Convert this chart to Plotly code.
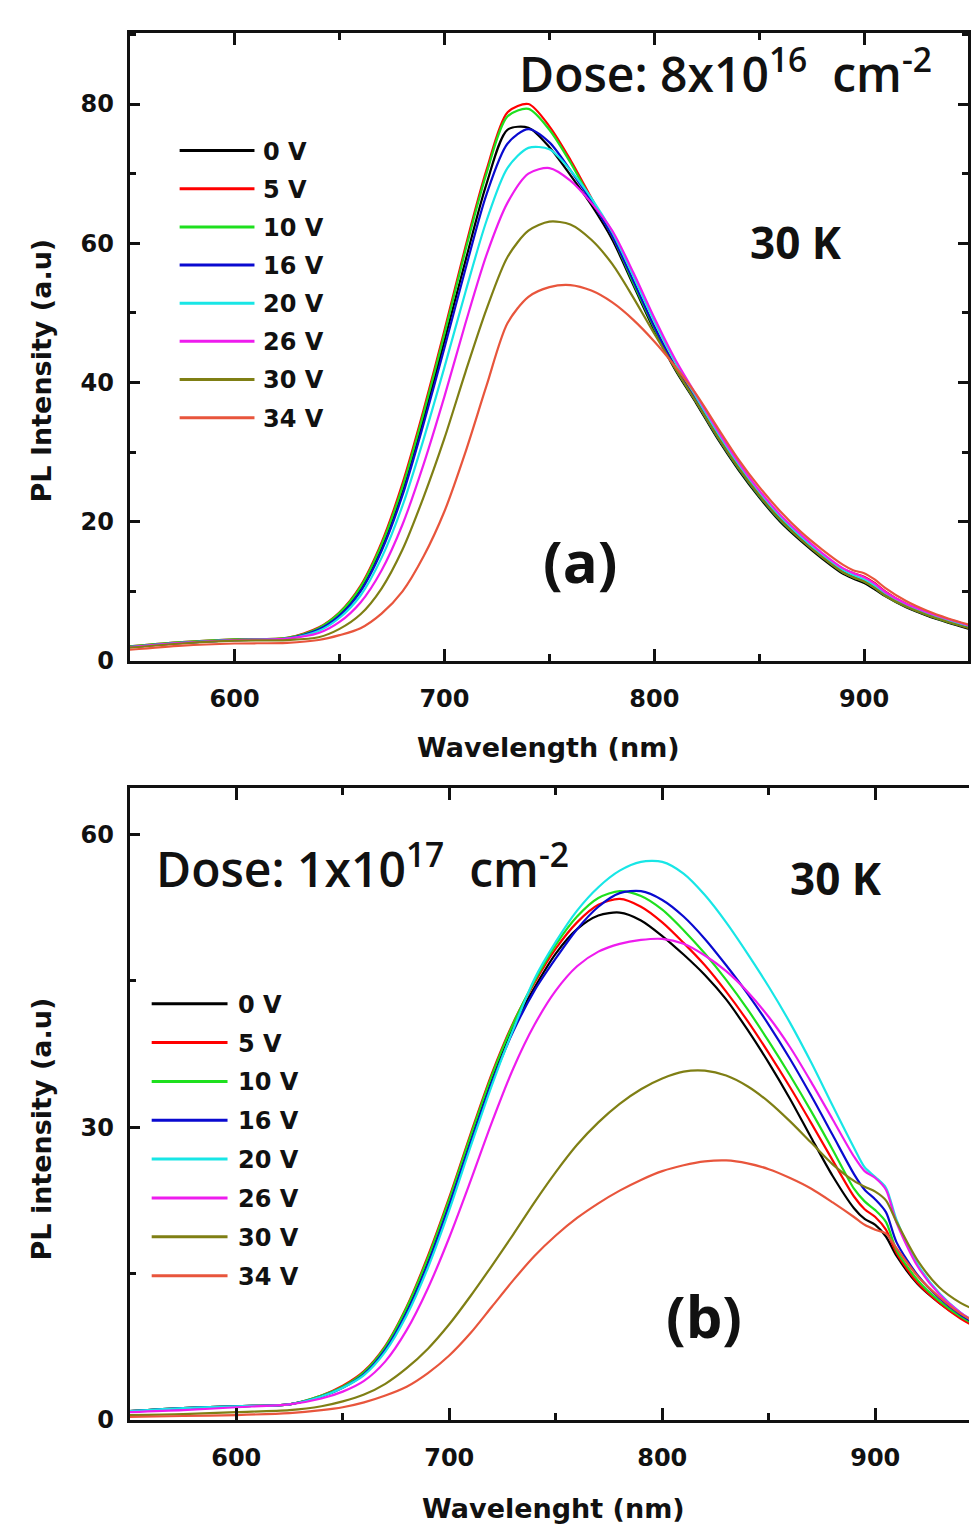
import plotly.graph_objects as go

# Shared wavelength grid (nm)
WAVELENGTH = [550, 575, 600, 625, 640, 650, 660, 670, 680, 690, 700, 710, 720, 730,
              740, 750, 760, 770, 780, 790, 800, 810, 820, 830, 840, 850, 860, 870,
              880, 890, 895, 900, 905, 910, 920, 930, 940, 950]

BIAS_LABELS = ["0 V", "5 V", "10 V", "16 V", "20 V", "26 V", "30 V", "34 V"]
COLORS = ["#000000", "#ff0000", "#1ee01e", "#0a0ad0", "#18e6e6", "#ee1cee", "#7f7f14", "#e8553c"]

# Panel (a): dose 8x10^16 cm^-2, 30 K
PL_A_0V = [2.0, 2.6, 3.0, 3.2, 4.6, 6.7, 10.3, 16.2, 24.3, 34.7, 46.0, 57.5, 68.5, 76.3,
           76.6, 73.8, 69.8, 65.5, 60.5, 54.0, 47.5, 41.8, 37.0, 32.0, 27.5, 23.5, 20.0, 17.2,
           14.7, 12.5, 11.8, 11.2, 10.3, 9.3, 7.7, 6.5, 5.5, 4.6]
PL_A_5V = [2.1, 2.7, 3.1, 3.3, 4.8, 7.0, 10.8, 17.0, 25.5, 36.0, 47.5, 59.5, 70.5, 78.8,
           80.0, 76.8, 72.0, 66.5, 61.0, 54.5, 48.0, 42.3, 37.5, 32.5, 28.0, 24.0, 20.6, 17.8,
           15.3, 13.2, 12.6, 12.1, 11.2, 10.0, 8.2, 6.9, 5.9, 5.0]
PL_A_10V = [2.1, 2.7, 3.1, 3.3, 4.7, 6.9, 10.6, 16.7, 25.0, 35.5, 47.0, 59.0, 70.0, 78.2,
            79.3, 76.3, 71.6, 66.2, 61.0, 54.3, 47.8, 42.0, 37.2, 32.2, 27.7, 23.7, 20.2, 17.4,
            14.9, 12.7, 12.0, 11.4, 10.5, 9.4, 7.8, 6.6, 5.6, 4.8]
PL_A_16V = [2.0, 2.6, 3.0, 3.2, 4.5, 6.5, 10.0, 15.8, 23.8, 34.0, 45.0, 56.3, 67.0, 74.3,
            76.4, 74.5, 70.5, 66.0, 61.0, 54.6, 48.0, 42.2, 37.3, 32.3, 27.8, 23.8, 20.3, 17.5,
            15.0, 12.8, 12.1, 11.5, 10.6, 9.5, 7.9, 6.7, 5.7, 4.9]
PL_A_20V = [2.0, 2.6, 3.0, 3.2, 4.3, 6.2, 9.4, 14.8, 22.3, 31.8, 42.2, 53.0, 63.2, 70.8,
            73.7, 73.5, 70.5, 66.5, 61.6, 55.3, 48.8, 42.9, 37.9, 32.8, 28.2, 24.2, 20.7, 17.8,
            15.2, 13.0, 12.3, 11.7, 10.8, 9.7, 8.0, 6.8, 5.8, 5.0]
PL_A_26V = [2.0, 2.6, 3.0, 3.2, 4.0, 5.6, 8.4, 13.0, 19.6, 28.2, 38.0, 48.5, 58.3, 65.8,
            70.0, 70.8, 69.0, 65.8, 61.8, 55.8, 49.3, 43.3, 38.2, 33.2, 28.6, 24.5, 21.0, 18.1,
            15.5, 13.3, 12.6, 12.0, 11.1, 9.9, 8.2, 7.0, 6.0, 5.1]
PL_A_30V = [1.9, 2.5, 2.9, 3.0, 3.4, 4.6, 6.7, 10.4, 16.0, 23.5, 32.0, 41.5, 50.5, 58.0,
            61.8, 63.1, 62.7, 60.5, 57.0, 52.2, 47.0, 42.0, 37.2, 32.3, 27.8, 23.8, 20.3, 17.4,
            14.9, 12.7, 12.0, 11.4, 10.5, 9.4, 7.8, 6.6, 5.6, 4.7]
PL_A_34V = [1.6, 2.2, 2.5, 2.6, 3.0, 3.7, 4.7, 6.8, 10.0, 15.0, 21.5, 30.0, 39.5, 48.5,
            52.3, 53.7, 54.0, 53.2, 51.5, 49.0, 45.9, 42.3, 38.3, 33.6, 29.0, 25.0, 21.5, 18.5,
            16.0, 13.8, 13.0, 12.6, 11.7, 10.5, 8.6, 7.2, 6.1, 5.2]

# Panel (b): dose 1x10^17 cm^-2, 30 K
PL_B_0V = [0.9, 1.2, 1.4, 1.6, 2.4, 3.4, 4.9, 7.4, 11.3, 16.4, 22.4, 28.9, 35.1, 40.3,
           44.3, 47.8, 50.3, 51.7, 52.0, 51.2, 49.6, 47.7, 45.6, 43.1, 40.0, 36.6, 32.9, 28.9,
           25.0, 21.7, 20.6, 20.0, 18.8, 16.8, 13.9, 12.0, 10.5, 9.3]
PL_B_5V = [0.9, 1.2, 1.4, 1.6, 2.5, 3.5, 5.0, 7.6, 11.6, 16.8, 22.8, 29.3, 35.5, 40.7,
           44.8, 48.3, 51.0, 52.8, 53.4, 52.6, 51.0, 48.9, 46.6, 43.9, 40.9, 37.6, 34.1, 30.4,
           26.6, 22.9, 21.6, 20.8, 19.5, 17.1, 14.0, 12.0, 10.4, 9.2]
PL_B_10V = [0.9, 1.2, 1.4, 1.6, 2.5, 3.4, 4.9, 7.5, 11.5, 16.6, 22.6, 29.1, 35.3, 40.6,
            45.0, 48.7, 51.6, 53.5, 54.2, 53.7, 52.3, 50.2, 47.8, 45.1, 42.1, 38.8, 35.3, 31.6,
            27.7, 23.7, 22.4, 21.5, 20.3, 17.4, 14.3, 12.2, 10.6, 9.4]
PL_B_16V = [0.9, 1.2, 1.4, 1.6, 2.4, 3.3, 4.7, 7.2, 11.0, 16.0, 22.0, 28.4, 34.6, 39.8,
            44.0, 47.3, 50.3, 52.6, 54.0, 54.2, 53.3, 51.6, 49.3, 46.6, 43.7, 40.5, 37.0, 33.2,
            29.2, 25.2, 23.6, 22.6, 21.3, 18.2, 14.8, 12.5, 10.8, 9.5]
PL_B_20V = [0.9, 1.2, 1.4, 1.6, 2.4, 3.3, 4.6, 7.0, 10.7, 15.6, 21.5, 28.0, 34.3, 40.0,
            45.2, 49.0, 52.2, 54.6, 56.3, 57.2, 57.2, 56.0, 53.8, 51.0, 47.8, 44.4, 40.7, 36.6,
            32.2, 27.9, 25.9, 24.9, 23.8, 20.5, 15.9, 13.0, 11.0, 9.6]
PL_B_26V = [0.8, 1.0, 1.3, 1.6, 2.2, 2.9, 4.0, 6.0, 9.2, 13.5, 18.7, 24.5, 30.5, 36.0,
            40.5, 44.0, 46.5, 48.0, 48.8, 49.2, 49.3, 48.8, 47.6, 46.0, 43.9, 41.3, 38.2, 34.6,
            30.8, 27.0, 25.5, 24.8, 23.6, 20.2, 15.7, 12.9, 11.0, 9.6]
PL_B_30V = [0.5, 0.6, 0.8, 1.0, 1.4, 1.9, 2.6, 3.7, 5.3, 7.3, 9.8, 12.7, 15.8, 19.0,
            22.3, 25.4, 28.2, 30.5, 32.4, 33.9, 35.0, 35.7, 35.8, 35.3, 34.2, 32.6, 30.6, 28.4,
            26.2, 24.5, 23.9, 23.4, 22.5, 20.3, 16.3, 13.6, 12.0, 11.0]
PL_B_34V = [0.3, 0.4, 0.5, 0.7, 1.0, 1.3, 1.8, 2.5, 3.4, 4.8, 6.6, 8.9, 11.6, 14.3,
            16.8, 18.9, 20.7, 22.2, 23.5, 24.6, 25.5, 26.1, 26.5, 26.6, 26.3, 25.7, 24.8, 23.7,
            22.3, 20.8, 20.0, 19.5, 19.1, 17.6, 14.7, 12.6, 10.9, 9.7]

PANEL_A = [PL_A_0V, PL_A_5V, PL_A_10V, PL_A_16V, PL_A_20V, PL_A_26V, PL_A_30V, PL_A_34V]
PANEL_B = [PL_B_0V, PL_B_5V, PL_B_10V, PL_B_16V, PL_B_20V, PL_B_26V, PL_B_30V, PL_B_34V]

W, H = 971, 1533


def px_x(p):
    return p / W


def px_y(p):
    return 1 - p / H


fig = go.Figure()

for vals, col, lab in zip(PANEL_A, COLORS, BIAS_LABELS):
    fig.add_trace(go.Scatter(x=WAVELENGTH, y=vals, mode="lines", name=lab, showlegend=False,
                             line=dict(color=col, width=2.2, shape="spline", smoothing=0.8),
                             xaxis="x", yaxis="y"))
for vals, col, lab in zip(PANEL_B, COLORS, BIAS_LABELS):
    fig.add_trace(go.Scatter(x=WAVELENGTH, y=vals, mode="lines", name=lab, showlegend=False,
                             line=dict(color=col, width=2.2, shape="spline", smoothing=0.8),
                             xaxis="x2", yaxis="y2"))

tick_font = dict(family="DejaVu Sans", size=24, color="#111111", weight="bold")
axis_common = dict(showline=True, linecolor="#111111", linewidth=3, ticks="inside",
                   tickcolor="#111111", tickwidth=2.5, showgrid=False, zeroline=False,
                   tickfont=tick_font, mirror="ticks")

fig.update_layout(
    width=W, height=H, margin=dict(l=0, r=0, t=0, b=0),
    paper_bgcolor="white", plot_bgcolor="white",
    xaxis=dict(axis_common, domain=[px_x(130), px_x(970)], range=[550, 949.5],
               tick0=0, dtick=100, ticklen=12, ticklabelstandoff=14, anchor="y",
               minor=dict(ticks="inside", dtick=50, ticklen=7, tickwidth=2.5, tickcolor="#111111")),
    yaxis=dict(axis_common, domain=[px_y(667), px_y(33)], range=[0, 90.25],
               tick0=0, dtick=20, ticklen=10, ticklabelstandoff=8, anchor="x",
               minor=dict(ticks="inside", dtick=10, ticklen=6, tickwidth=2.5, tickcolor="#111111")),
    xaxis2=dict(axis_common, domain=[px_x(130), 1.0], range=[550, 944],
                tick0=0, dtick=100, ticklen=12, ticklabelstandoff=14, anchor="y2",
                minor=dict(ticks="inside", dtick=50, ticklen=7, tickwidth=2.5, tickcolor="#111111")),
    yaxis2=dict(axis_common, domain=[px_y(1433), px_y(795)], range=[0, 64.8], mirror=False,
                tick0=0, dtick=30, ticklen=10, ticklabelstandoff=8, anchor="x2",
                minor=dict(ticks="inside", dtick=15, ticklen=6, tickwidth=2.5, tickcolor="#111111")),
)

annotations = []
shapes = []

title_font = dict(family="DejaVu Sans", size=27, color="#111111", weight="bold")
annotations += [
    dict(text="Wavelength (nm)", x=px_x(550), y=px_y(754), xref="paper", yref="paper",
         showarrow=False, font=title_font, xanchor="center", yanchor="middle"),
    dict(text="PL Intensity (a.u)", x=px_x(42), y=px_y(374), xref="paper", yref="paper",
         showarrow=False, font=title_font, textangle=-90, xanchor="center", yanchor="middle"),
    dict(text="Wavelenght (nm)", x=px_x(555), y=px_y(1522), xref="paper", yref="paper",
         showarrow=False, font=title_font, xanchor="center", yanchor="middle"),
    dict(text="PL intensity (a.u)", x=px_x(42), y=px_y(1139), xref="paper", yref="paper",
         showarrow=False, font=title_font, textangle=-90, xanchor="center", yanchor="middle"),
]

note_font = dict(family="Open Sans", size=48, color="#111111", weight=600)
bold_note = dict(family="Open Sans", size=44, color="#111111", weight="bold")
panel_font = dict(family="Open Sans", size=58, color="#111111", weight="bold")
annotations += [
    dict(text="Dose: 8x10<sup>16</sup>\u00a0\u00a0cm<sup>-2</sup>", x=px_x(518), y=px_y(72),
         xref="paper", yref="paper", showarrow=False, font=note_font,
         xanchor="left", yanchor="middle"),
    dict(text="30 K", x=px_x(798), y=px_y(244), xref="paper", yref="paper",
         showarrow=False, font=bold_note, xanchor="center", yanchor="middle"),
    dict(text="(a)", x=px_x(581), y=px_y(566), xref="paper", yref="paper",
         showarrow=False, font=panel_font, xanchor="center", yanchor="middle"),
    dict(text="Dose: 1x10<sup>17</sup>\u00a0\u00a0cm<sup>-2</sup>", x=px_x(154), y=px_y(874),
         xref="paper", yref="paper", showarrow=False, font=note_font,
         xanchor="left", yanchor="middle"),
    dict(text="30 K", x=px_x(838), y=px_y(886), xref="paper", yref="paper",
         showarrow=False, font=bold_note, xanchor="center", yanchor="middle"),
    dict(text="(b)", x=px_x(705), y=px_y(1328), xref="paper", yref="paper",
         showarrow=False, font=panel_font, xanchor="center", yanchor="middle"),
]

# Hand-placed keys for the bias series of each panel
legend_font = dict(family="DejaVu Sans", size=24, color="#111111", weight="bold")
for (x0, x1, xt, y0, dy) in [(180, 255, 262, 152, 38.5), (152, 228, 236, 1013, 39.2)]:
    for i, (lab, col) in enumerate(zip(BIAS_LABELS, COLORS)):
        yy = y0 + i * dy
        shapes.append(dict(type="line", xref="paper", yref="paper",
                           x0=px_x(x0), x1=px_x(x1), y0=px_y(yy), y1=px_y(yy),
                           line=dict(color=col, width=3)))
        annotations.append(dict(text=lab, x=px_x(xt), y=px_y(yy + 1), xref="paper", yref="paper",
                                showarrow=False, font=legend_font,
                                xanchor="left", yanchor="middle"))

fig.update_layout(annotations=annotations, shapes=shapes)

fig.write_html("out.html")
